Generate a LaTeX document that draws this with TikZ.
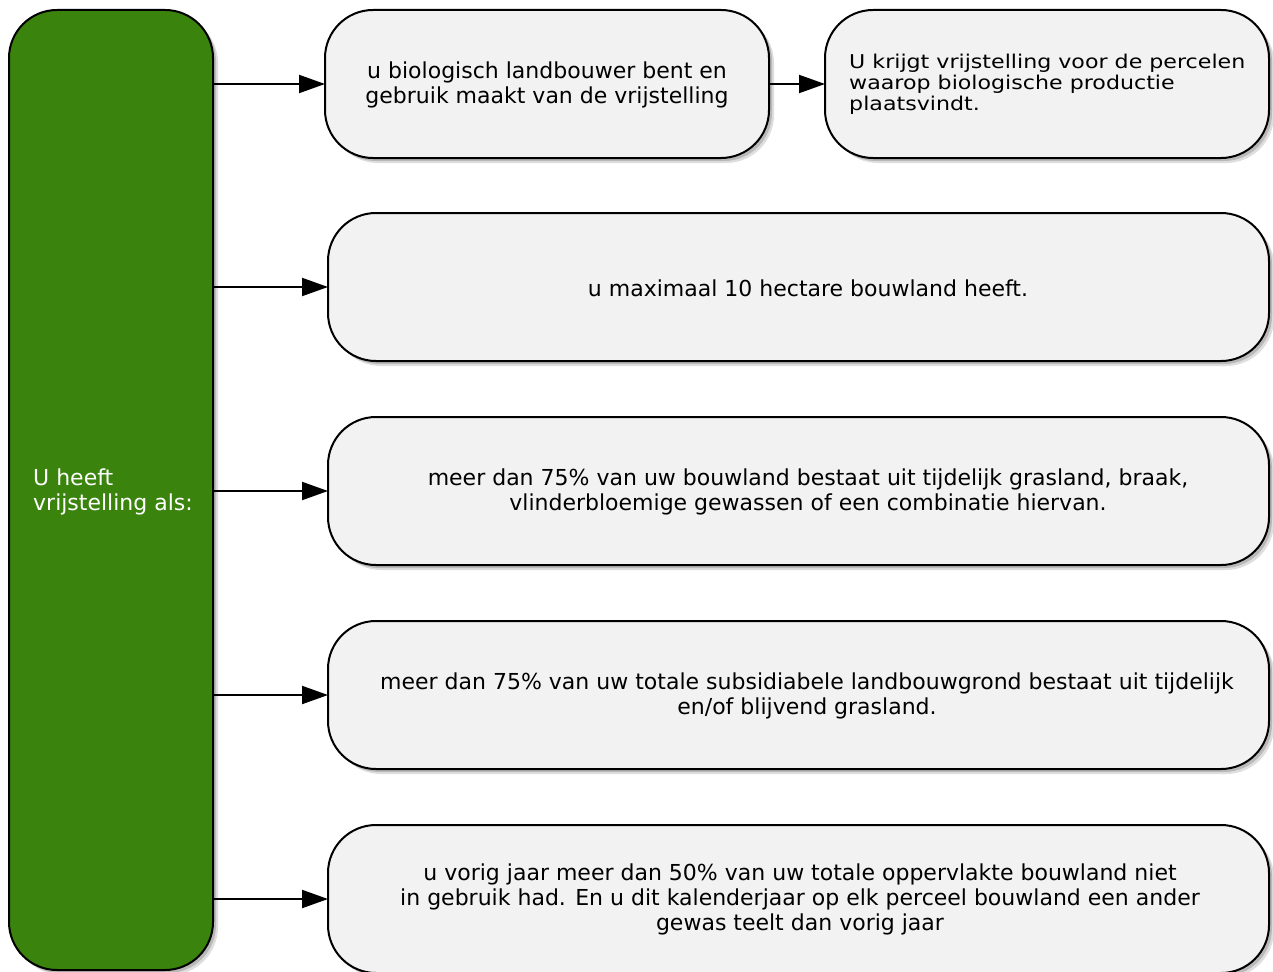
\documentclass[tikz,border=0pt]{standalone}
\usepackage{fontspec}
\setmainfont{DejaVu Sans}
\usetikzlibrary{arrows.meta,shadows}
\definecolor{boxgreen}{RGB}{58,132,14}
\definecolor{boxgray}{RGB}{242,242,242}
\begin{document}
\begin{tikzpicture}[x=1pt,y=-1pt,
  base/.style={draw=black, line width=2pt, rounded corners=48pt, inner sep=0pt, outer sep=0pt,
    drop shadow={shadow xshift=5pt, shadow yshift=-5pt, opacity=0.18, fill=black!70},
    drop shadow={shadow xshift=3pt, shadow yshift=-3pt, opacity=0.25, fill=black!70}},
  greenbox/.style={base, fill=boxgreen, minimum width=204pt, minimum height=960pt},
  graybox/.style={base, fill=boxgray, minimum height=148pt},
  txt/.style={inner sep=0pt, align=center, font=\fontsize{22pt}{25pt}\selectfont},
  arr/.style={line width=2pt, -{Triangle[length=26pt,width=18pt]}}
]
\useasboundingbox (0,0) rectangle (1273,971);
\fill[white] (0,0) rectangle (1273,971);

\node[greenbox] (g) at (111,490) {};
\node[graybox, minimum width=444pt] (b1) at (547,84) {};
\node[graybox, minimum width=444pt] (b2) at (1047,84) {};
\node[graybox, minimum width=941pt] (b3) at (798.5,287) {};
\node[graybox, minimum width=941pt] (b4) at (798.5,491) {};
\node[graybox, minimum width=941pt] (b5) at (798.5,695) {};
\node[graybox, minimum width=941pt] (b6) at (798.5,899) {};

\node[txt, text=white, align=left, anchor=west] (tg) at (33,492) {U heeft\\vrijstelling als:};
\node[txt] (t1) at (547,85) {u biologisch landbouwer bent en\\gebruik maakt van de vrijstelling};
\node[txt, align=left, anchor=west, font=\fontsize{19pt}{21pt}\selectfont, xscale=1.165] (t2) at (849,84) {U krijgt vrijstelling voor de percelen\\waarop biologische productie\\plaatsvindt.};
\node[txt] (t3) at (808,288) {u maximaal 10 hectare bouwland heeft.};
\node[txt] (t4) at (808,492) {meer dan 75\% van uw bouwland bestaat uit tijdelijk grasland, braak,\\vlinderbloemige gewassen of een combinatie hiervan.};
\node[txt] (t5) at (807,696) {meer dan 75\% van uw totale subsidiabele landbouwgrond bestaat uit tijdelijk\\en/of blijvend grasland.};
\node[txt] (t6) at (800,899) {u vorig jaar meer dan 50\% van uw totale oppervlakte bouwland niet\\in gebruik had. En u dit kalenderjaar op elk perceel bouwland een ander\\gewas teelt dan vorig jaar};

\draw[arr] (g.east |- b1.west) -- (b1.west);
\draw[arr] (b1.east) -- (b2.west);
\draw[arr] (g.east |- b3.west) -- (b3.west);
\draw[arr] (g.east |- b4.west) -- (b4.west);
\draw[arr] (g.east |- b5.west) -- (b5.west);
\draw[arr] (g.east |- b6.west) -- (b6.west);
\end{tikzpicture}
\end{document}
